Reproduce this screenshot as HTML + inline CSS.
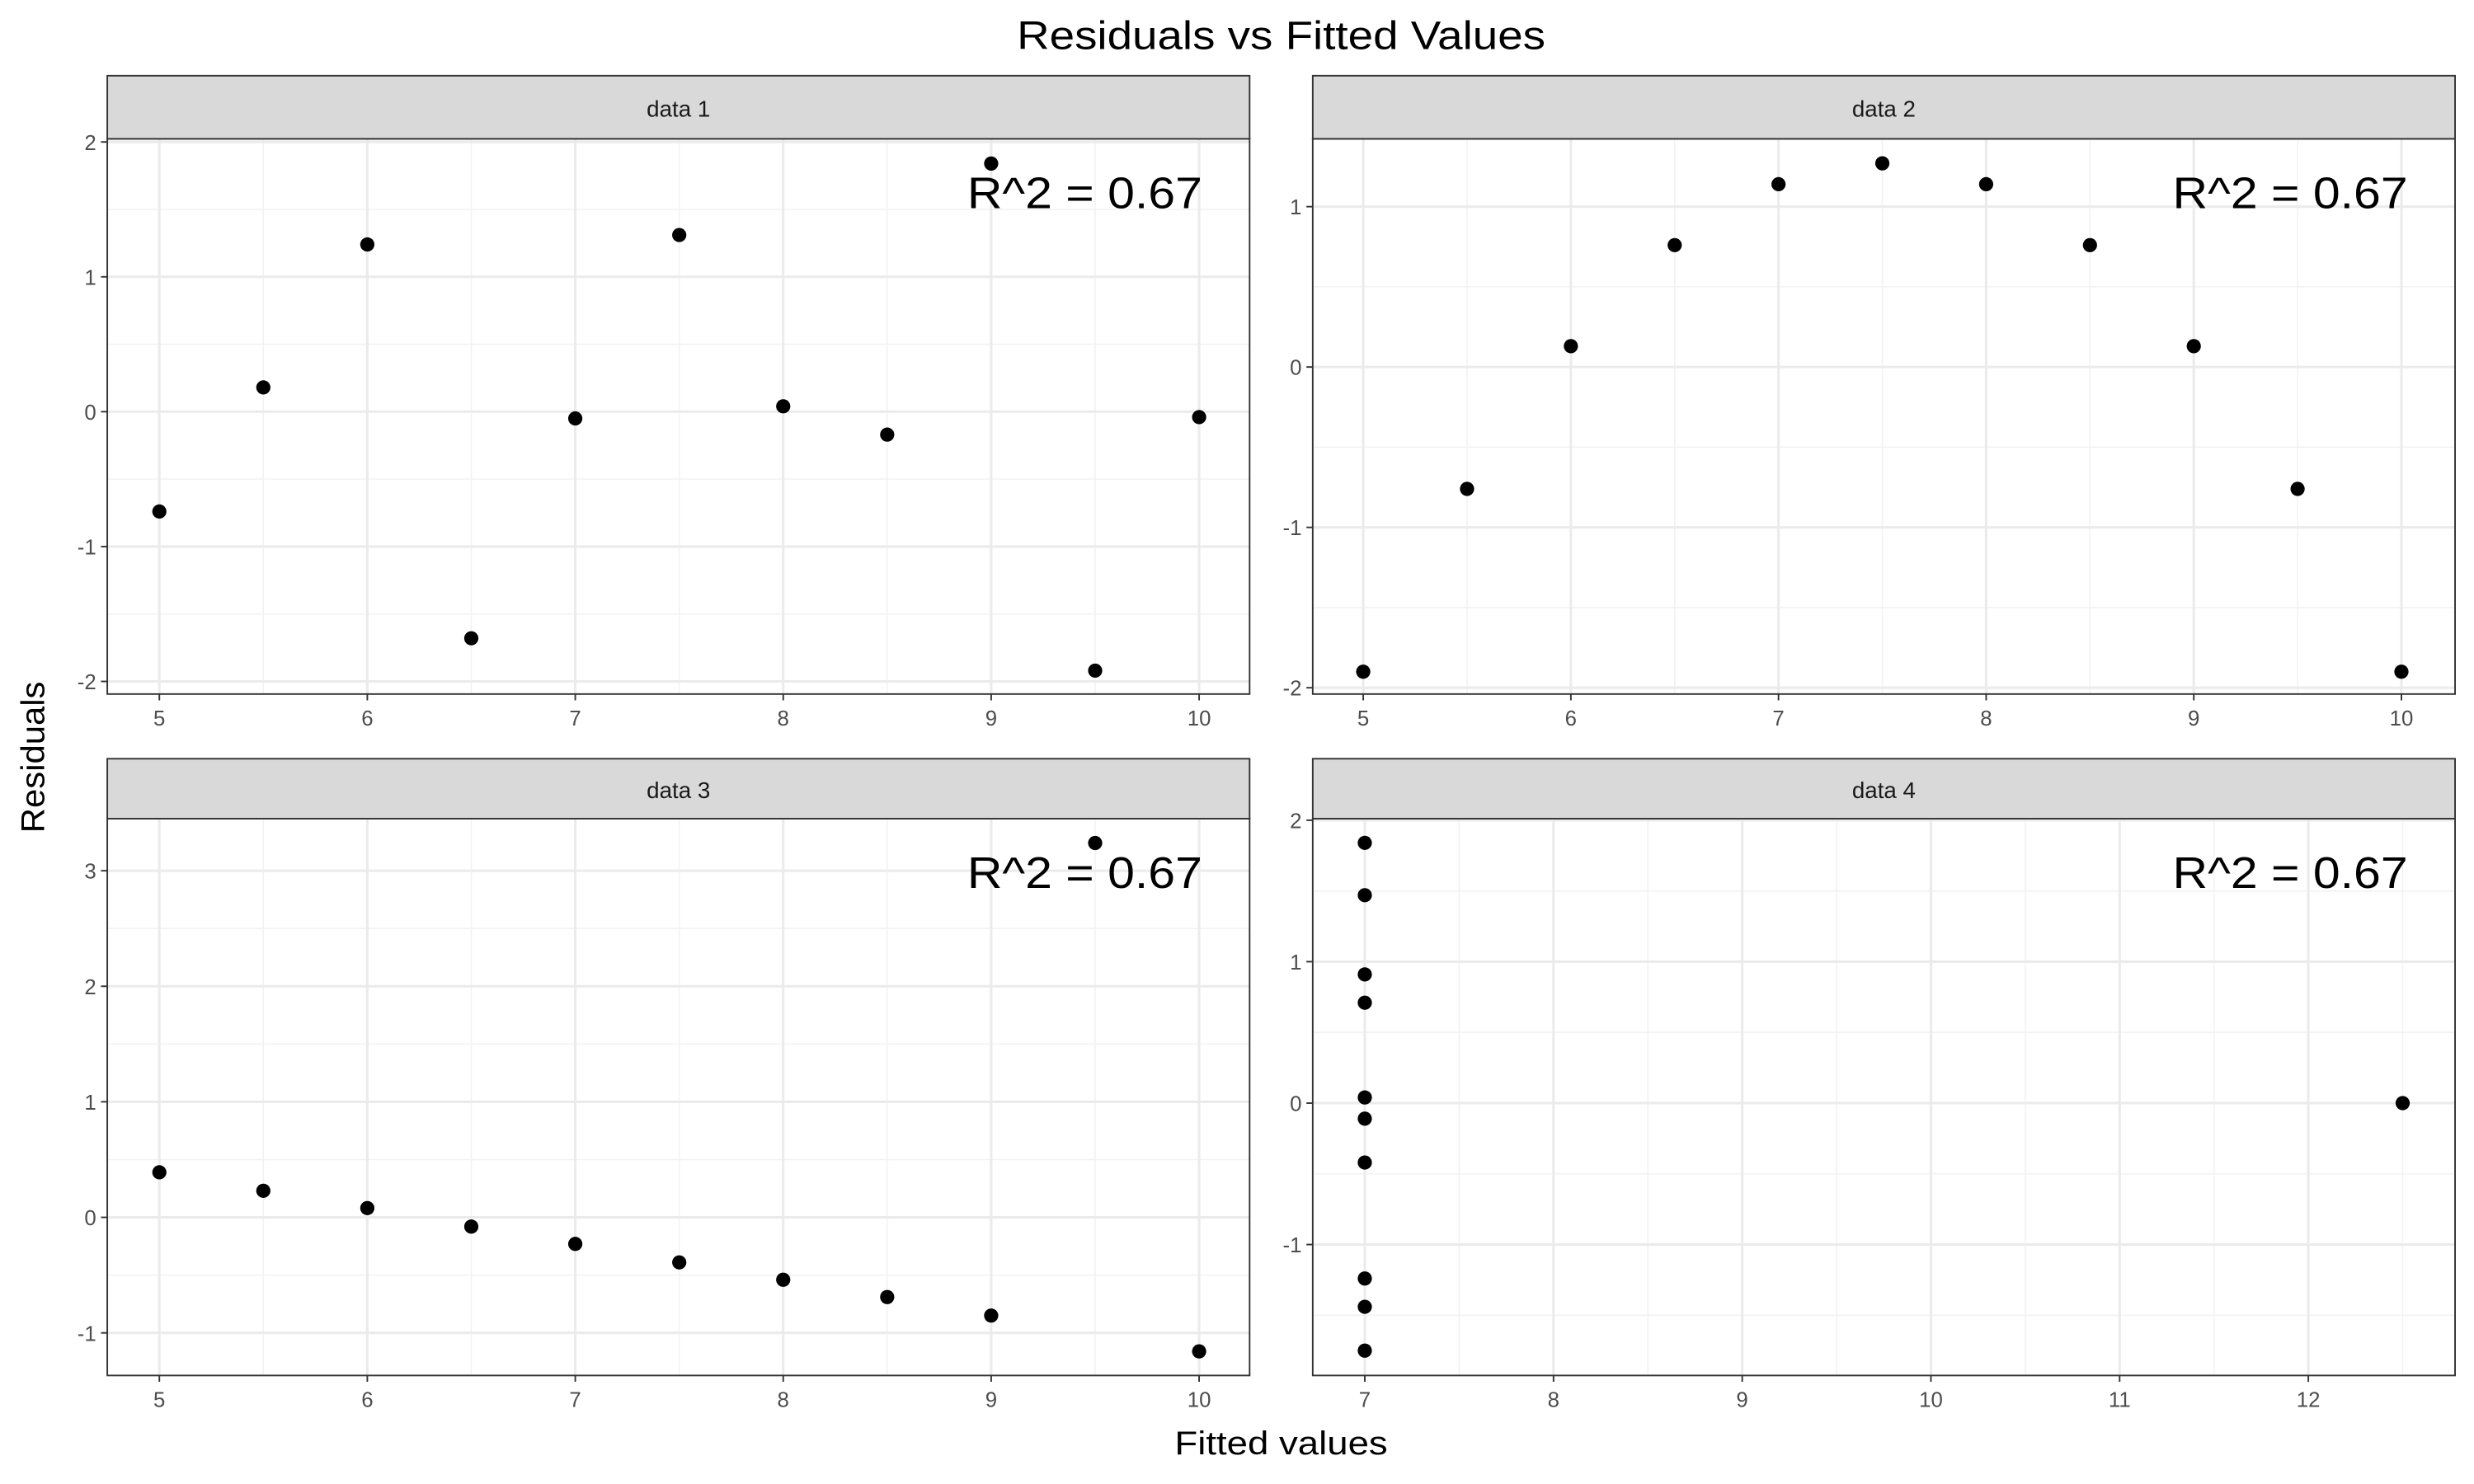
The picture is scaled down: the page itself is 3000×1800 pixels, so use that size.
<!DOCTYPE html>
<html><head><meta charset="utf-8"><style>
html,body{margin:0;padding:0;background:#fff}
svg{display:block}
text{font-family:"Liberation Sans",Arial,sans-serif}
</style></head><body>
<svg id="chart" width="3000" height="1800" viewBox="0 0 1568 940.8" xmlns="http://www.w3.org/2000/svg">
<rect width="1568" height="940.8" fill="#fff"/>
<text x="812" y="31" font-size="25" text-anchor="middle" fill="#000" textLength="335" lengthAdjust="spacingAndGlyphs">Residuals vs Fitted Values</text>
<text x="812" y="922" font-size="21" text-anchor="middle" fill="#000" textLength="135" lengthAdjust="spacingAndGlyphs">Fitted values</text>
<text x="28" y="480" font-size="21" text-anchor="middle" fill="#000" transform="rotate(-90 28 480)" textLength="96" lengthAdjust="spacingAndGlyphs">Residuals</text>
<g id="panels"></g>
</svg>
<script>
const fitted1 = [5,5.5,6,6.5,7,7.5,8,8.5,9,9.5,10];
const resid1 = [-0.74,0.18,1.24,-1.68,-0.05,1.31,0.04,-0.17,1.84,-1.92,-0.04];
const fitted2 = [5,5.5,6,6.5,7,7.5,8,8.5,9,9.5,10];
const resid2 = [-1.90,-0.76,0.13,0.76,1.14,1.27,1.14,0.76,0.13,-0.76,-1.90];
const fitted3 = [5,5.5,6,6.5,7,7.5,8,8.5,9,9.5,10];
const resid3 = [0.39,0.23,0.08,-0.08,-0.23,-0.39,-0.54,-0.69,-0.85,3.24,-1.16];
const fitted4 = [7,7,7,7,7,7,7,7,7,7,12.5];
const resid4 = [-0.42,-1.24,0.71,1.84,1.47,0.04,-1.75,-1.44,0.91,-0.11,0];
const xTicks1 = [5,6,7,8,9,10];
const xTicks4 = [7,8,9,10,11,12];
const yTicks1 = [-2,-1,0,1,2];
const yTicks2 = [-2,-1,0,1];
const yTicks3 = [-1,0,1,2,3];
const yTicks4 = [-1,0,1,2];
const titles = ["data 1","data 2","data 3","data 4"];
const r2Label = "R^2 = 0.67";

const NS="http://www.w3.org/2000/svg";
const root=document.getElementById('panels');
function mk(tag,attrs,parent){const e=document.createElementNS(NS,tag);for(const k in attrs)e.setAttribute(k,attrs[k]);(parent||root).appendChild(e);return e;}

const panels=[
 {x0:68,x1:792,st:48,y0:88,y1:440,fx:fitted1,ry:resid1,xt:xTicks1,yt:yTicks1,xa:[5,101,10,760],ya:[2,90,-2,432]},
 {x0:832,x1:1556,st:48,y0:88,y1:440,fx:fitted2,ry:resid2,xt:xTicks1,yt:yTicks2,xa:[5,864,10,1522],ya:[1,131,-2,436]},
 {x0:68,x1:792,st:481,y0:519,y1:872,fx:fitted3,ry:resid3,xt:xTicks1,yt:yTicks3,xa:[5,101,10,760],ya:[3,552,-1,845]},
 {x0:832,x1:1556,st:481,y0:519,y1:872,fx:fitted4,ry:resid4,xt:xTicks4,yt:yTicks4,xa:[7,865,12,1463],ya:[2,520,-1,789]}
];
panels.forEach((p,i)=>{
 const g=mk('g',{});
 
 
 const sx=v=>p.xa[1]+(v-p.xa[0])*(p.xa[3]-p.xa[1])/(p.xa[2]-p.xa[0]);
 const sy=v=>p.ya[1]+(v-p.ya[0])*(p.ya[3]-p.ya[1])/(p.ya[2]-p.ya[0]);
 const dx=p.xt[1]-p.xt[0], dy=p.yt[1]-p.yt[0];
 for(let v=p.xt[0]-dx/2; v<=p.xt[p.xt.length-1]+dx/2+1e-9; v+=dx){const X=sx(v);if(X>p.x0&&X<p.x1)mk('line',{x1:X,x2:X,y1:p.y0,y2:p.y1,stroke:'#f2f2f2','stroke-width':0.8},g);}
 for(let v=p.yt[0]-dy/2; v<=p.yt[p.yt.length-1]+dy/2+1e-9; v+=dy){const Y=sy(v);if(Y>p.y0&&Y<p.y1)mk('line',{x1:p.x0,x2:p.x1,y1:Y,y2:Y,stroke:'#f2f2f2','stroke-width':0.8},g);}
 p.xt.forEach(v=>{const X=sx(v);
  mk('line',{x1:X,x2:X,y1:p.y0,y2:p.y1,stroke:'#ebebeb','stroke-width':1.6},g);
  mk('line',{x1:X,x2:X,y1:p.y1,y2:p.y1+4,stroke:'#333','stroke-width':1},g);
  const t=mk('text',{x:X,y:p.y1+20,'font-size':13.5,'text-anchor':'middle',fill:'#4d4d4d'},g);t.textContent=v;
  
  });
 p.yt.forEach(v=>{const Y=sy(v);
  mk('line',{x1:p.x0,x2:p.x1,y1:Y,y2:Y,stroke:'#ebebeb','stroke-width':1.6},g);
  mk('line',{x1:p.x0-4,x2:p.x0,y1:Y,y2:Y,stroke:'#333','stroke-width':1},g);
  const t=mk('text',{x:p.x0-7,y:Y+5,'font-size':13.5,'text-anchor':'end',fill:'#4d4d4d'},g);t.textContent=v;
  
  });
 mk('rect',{x:p.x0,y:p.y0,width:p.x1-p.x0,height:p.y1-p.y0,fill:'none',stroke:'#333','stroke-width':1},g);
 const s=mk('rect',{x:p.x0,y:p.st,width:p.x1-p.x0,height:p.y0-p.st,fill:'#d9d9d9',stroke:'#333','stroke-width':1},g);
 
 
 const st=mk('text',{x:(p.x0+p.x1)/2,y:(p.st+p.y0)/2+6,'font-size':14.5,'text-anchor':'middle',fill:'#1a1a1a'},g);st.textContent=titles[i];
 
 
 p.fx.forEach((fv,j)=>{const c=mk('circle',{cx:sx(fv),cy:sy(p.ry[j]),r:4.5,fill:'#000'},g);
  
  });
 const r=mk('text',{x:p.x1-30,y:p.y0+44,'font-size':28,'text-anchor':'end',fill:'#000',textLength:149,lengthAdjust:'spacingAndGlyphs'},g);r.textContent=r2Label;
 
 
});
</script>
</body></html>
